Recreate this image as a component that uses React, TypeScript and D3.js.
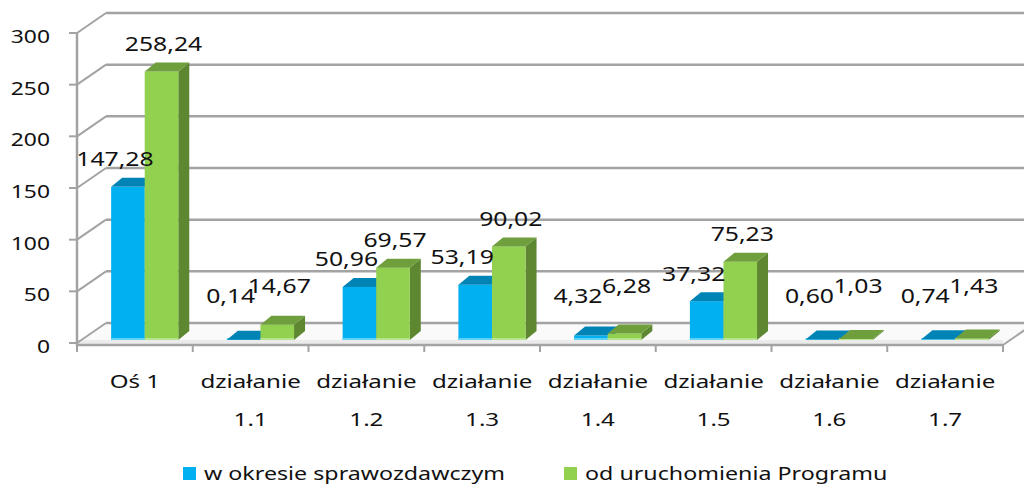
import React from "react";
import * as d3 from "d3";

// categories along the floor
const categories = [
  "Oś 1",
  "działanie 1.1",
  "działanie 1.2",
  "działanie 1.3",
  "działanie 1.4",
  "działanie 1.5",
  "działanie 1.6",
  "działanie 1.7",
];

const seriesNames = ["w okresie sprawozdawczym", "od uruchomienia Programu"];

// values
const periodValues = [147.28, 0.14, 50.96, 53.19, 4.32, 37.32, 0.6, 0.74];
const totalValues = [258.24, 14.67, 69.57, 90.02, 6.28, 75.23, 1.03, 1.43];

const yTicks = [0, 50, 100, 150, 200, 250, 300];

const W = 1024;
const H = 488;

const FONT = "'Noto Sans', 'DejaVu Sans', sans-serif";
const STRETCH = 1.27;

const palette = [
  { front: "#00b0f0", top: "#0084b6", side: "#0077a4", foot: "#5fd0f7" },
  { front: "#92d050", top: "#6f9e3c", side: "#5e8732", foot: "#b8e38f" },
];

const fmt = (v: number) => v.toFixed(2).replace(".", ",");

// text drawn wider than the font, like the source picture
const SText = ({
  x,
  y,
  size,
  anchor = "middle",
  children,
}: {
  x: number;
  y: number;
  size: number;
  anchor?: "start" | "middle" | "end";
  children: React.ReactNode;
}) => (
  <text
    transform={`translate(${x},${y}) scale(${STRETCH},1)`}
    textAnchor={anchor}
    dominantBaseline="central"
    fontFamily={FONT}
    fontSize={size}
    fill="#111"
  >
    {children}
  </text>
);

export default function App() {
  const left = 77;
  const right = 1003;
  const floorY = 344;
  const depth = { x: 29, y: -20 }; // wall depth
  const barDepth = { x: 11, y: -9 };
  const barBase = 340;

  const yFront = d3.scaleLinear().domain([0, 300]).range([343, 33]);
  const yBar = d3.scaleLinear().domain([0, 300]).range([barBase, 28]);

  const x0 = d3.scaleBand<string>().domain(categories).range([left, right]);
  const bw = x0.bandwidth();
  const x1 = d3
    .scaleBand<number>()
    .domain([0, 1])
    .range([bw * 0.295, bw * 0.875]);
  const w = x1.bandwidth();

  const series = [periodValues, totalValues];

  const grid = "#a3a3a3";

  return (
    <svg
      width={W}
      height={H}
      style={{ position: "absolute", left: 0, top: 0, background: "#fff" }}
    >
      {/* floor */}
      <polygon
        points={`${left},${floorY} ${right},${floorY} ${right + depth.x},${floorY + depth.y} ${left + depth.x},${floorY + depth.y}`}
        fill="#fafafa"
      />
      <rect x={left} y={floorY - 4} width={right - left} height={4} fill="#ebebeb" />

      {/* back wall gridlines and left wall diagonals */}
      {yTicks.map((t) => {
        const y = yFront(t);
        return (
          <g key={t}>
            <line
              x1={left + depth.x}
              x2={W + 10}
              y1={y + depth.y}
              y2={y + depth.y}
              stroke={grid}
              strokeWidth={2.5}
            />
            <line
              x1={left}
              y1={y}
              x2={left + depth.x}
              y2={y + depth.y}
              stroke={grid}
              strokeWidth={2}
            />
            <line x1={left - 8} x2={left} y1={y} y2={y} stroke={grid} strokeWidth={2} />
            <SText x={50} y={y + 3} size={18} anchor="end">
              {t}
            </SText>
          </g>
        );
      })}

      {/* value axis */}
      <line x1={left} x2={left} y1={yFront(300)} y2={floorY + 2} stroke={grid} strokeWidth={2.5} />

      {/* floor front edge and right edge */}
      <line x1={left} x2={right} y1={floorY + 1} y2={floorY + 1} stroke={grid} strokeWidth={2.5} />
      <line
        x1={right}
        y1={floorY + 1}
        x2={right + depth.x}
        y2={floorY + 1 + depth.y}
        stroke={grid}
        strokeWidth={2}
      />
      {categories.map((c) => (
        <line
          key={c}
          x1={x0(c)!}
          x2={x0(c)!}
          y1={floorY}
          y2={floorY + 8}
          stroke={grid}
          strokeWidth={2}
        />
      ))}
      <line x1={right} x2={right} y1={floorY} y2={floorY + 8} stroke={grid} strokeWidth={2} />

      {/* bars */}
      {categories.map((c, i) => (
        <g key={c}>
          {series.map((vals, s) => {
            const v = vals[i];
            const x = x0(c)! + x1(s)!;
            const top = yBar(v);
            const col = palette[s];
            return (
              <g key={s}>
                <polygon
                  points={`${x + w},${top} ${x + w + barDepth.x},${top + barDepth.y} ${x + w + barDepth.x},${barBase + barDepth.y} ${x + w},${barBase}`}
                  fill={col.side}
                />
                <rect x={x} y={top} width={w} height={barBase - top} fill={col.front} />
                <rect x={x} y={barBase - 2} width={w} height={2} fill={col.foot} />
                <polygon
                  points={`${x},${top} ${x + w},${top} ${x + w + barDepth.x},${top + barDepth.y} ${x + barDepth.x},${top + barDepth.y}`}
                  fill={col.top}
                />
              </g>
            );
          })}
        </g>
      ))}

      {/* data labels */}
      {categories.map((c, i) =>
        series.map((vals, s) => {
          const v = vals[i];
          const cx = x0(c)! + x1(s)! + w / 2 + (s === 0 ? -13 : 2);
          const cy = Math.min(yBar(v) - 28, s === 0 ? 296 : 286);
          return (
            <SText key={`${c}-${s}`} x={cx} y={cy} size={19.5}>
              {fmt(v)}
            </SText>
          );
        })
      )}

      {/* category labels */}
      {categories.map((c) => {
        const lines = c.startsWith("działanie") ? c.split(" ") : [c];
        const cx = x0(c)! + bw / 2;
        return lines.map((ln, k) => (
          <SText key={`${c}-${k}`} x={cx} y={381 + k * 38} size={19}>
            {ln}
          </SText>
        ));
      })}

      {/* legend */}
      {seriesNames.map((name, s) => {
        const lx = s === 0 ? 183 : 564;
        return (
          <g key={name}>
            <rect x={lx} y={467} width={13} height={13} fill={palette[s].front} />
            <SText x={lx + 21} y={473} size={18.3} anchor="start">
              {name}
            </SText>
          </g>
        );
      })}
    </svg>
  );
}
